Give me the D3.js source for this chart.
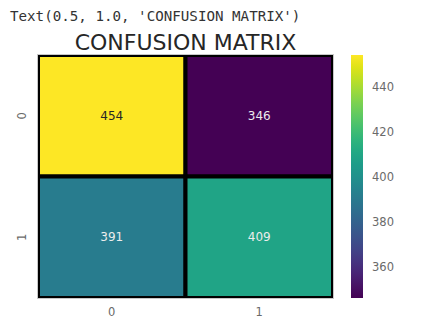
<!DOCTYPE html>
<html>
<head>
<meta charset="utf-8">
<script src="https://cdn.jsdelivr.net/npm/d3@7"></script>
<style>
  html, body { margin: 0; padding: 0; background: #fff; }
  svg { display: block; }
</style>
</head>
<body>
<svg id="chart" width="424" height="320"></svg>
<script>
// Confusion matrix counts (rows: actual, columns: predicted)
const rowLabels = ["0", "1"];
const colLabels = ["0", "1"];
const matrix = [
  [454, 346],
  [391, 409]
];
const colorbarTicks = [360, 380, 400, 420, 440];
const titleText = "CONFUSION MATRIX";
const echoText = "Text(0.5, 1.0, 'CONFUSION MATRIX')";

const svg = d3.select("#chart");

// plot area
const plot = { x0: 38, x1: 333, y0: 55, y1: 298 };
const cbar = { x0: 351, x1: 363 };

const flat = matrix.flat();
const vmin = d3.min(flat), vmax = d3.max(flat);
const color = d3.scaleSequential(d3.interpolateViridis).domain([vmin, vmax]);

const x = d3.scaleBand().domain(colLabels).range([plot.x0, plot.x1]);
const y = d3.scaleBand().domain(rowLabels).range([plot.y0, plot.y1]);

// notebook echo line
svg.append("text")
  .attr("x", 10).attr("y", 21)
  .attr("font-family", "DejaVu Sans Mono, Liberation Mono, monospace")
  .attr("font-size", 14.2)
  .attr("fill", "#333")
  .text(echoText);

// title
svg.append("text")
  .attr("x", (plot.x0 + plot.x1) / 2).attr("y", 49.5)
  .attr("text-anchor", "middle")
  .attr("font-family", "DejaVu Sans, sans-serif")
  .attr("font-size", 22)
  .attr("fill", "#262626")
  .text(titleText);

// clip cells to the plot area so outer borders are half-width
const defs = svg.append("defs");
defs.append("clipPath").attr("id", "plotClip")
  .append("rect")
  .attr("x", plot.x0).attr("y", plot.y0)
  .attr("width", plot.x1 - plot.x0).attr("height", plot.y1 - plot.y0);

// light frame around the axes
svg.append("rect")
  .attr("x", plot.x0 - 0.5).attr("y", plot.y0 - 0.5)
  .attr("width", plot.x1 - plot.x0 + 1).attr("height", plot.y1 - plot.y0 + 1)
  .attr("fill", "none").attr("stroke", "#c8c8c8").attr("stroke-width", 1);

const cells = [];
matrix.forEach((row, i) => row.forEach((v, j) => cells.push({ r: rowLabels[i], c: colLabels[j], v })));

const g = svg.append("g").attr("clip-path", "url(#plotClip)");
g.selectAll("rect.cell").data(cells).join("rect")
  .attr("class", "cell")
  .attr("x", d => x(d.c)).attr("y", d => y(d.r))
  .attr("width", x.bandwidth()).attr("height", y.bandwidth())
  .attr("fill", d => color(d.v))
  .attr("stroke", "#000").attr("stroke-width", 4);

// annotations
function luminance(c) {
  const rgb = d3.rgb(c);
  const f = v => { v /= 255; return v <= 0.03928 ? v / 12.92 : Math.pow((v + 0.055) / 1.055, 2.4); };
  return 0.2126 * f(rgb.r) + 0.7152 * f(rgb.g) + 0.0722 * f(rgb.b);
}
svg.selectAll("text.annot").data(cells).join("text")
  .attr("class", "annot")
  .attr("x", d => x(d.c) + x.bandwidth() / 2)
  .attr("y", d => y(d.r) + y.bandwidth() / 2)
  .attr("dy", "0.35em")
  .attr("text-anchor", "middle")
  .attr("font-family", "DejaVu Sans, sans-serif")
  .attr("font-size", 12)
  .attr("fill", d => luminance(color(d.v)) > 0.408 ? "#262626" : "#ececec")
  .text(d => d.v);

// axes: labels only, no tick lines
const xAxis = svg.append("g")
  .attr("transform", `translate(0,${plot.y1})`)
  .call(d3.axisBottom(x).tickSize(0).tickPadding(10));
const yAxis = svg.append("g")
  .attr("transform", `translate(${plot.x0},0)`)
  .call(d3.axisLeft(y).tickSize(0).tickPadding(0));
[xAxis, yAxis].forEach(a => {
  a.select(".domain").remove();
  a.selectAll("text")
    .attr("font-family", "DejaVu Sans, sans-serif")
    .attr("font-size", 11.5)
    .attr("fill", "#6a6a6a");
});
yAxis.selectAll(".tick text")
  .attr("text-anchor", "middle")
  .attr("dy", null)
  .attr("x", 0)
  .attr("transform", "translate(-16,0) rotate(-90)")
  .attr("dominant-baseline", "central");

// colorbar
const cScale = d3.scaleLinear().domain([vmin, vmax]).range([plot.y1, plot.y0]);
const grad = defs.append("linearGradient").attr("id", "cbGrad")
  .attr("x1", 0).attr("y1", 1).attr("x2", 0).attr("y2", 0);
d3.range(0, 1.0001, 0.05).forEach(t => {
  grad.append("stop").attr("offset", t).attr("stop-color", d3.interpolateViridis(t));
});
svg.append("rect")
  .attr("x", cbar.x0).attr("y", plot.y0)
  .attr("width", cbar.x1 - cbar.x0).attr("height", plot.y1 - plot.y0)
  .attr("fill", "url(#cbGrad)");

const cAxis = svg.append("g")
  .attr("transform", `translate(${cbar.x1},0)`)
  .call(d3.axisRight(cScale).tickValues(colorbarTicks).tickSize(0).tickPadding(9));
cAxis.select(".domain").remove();
cAxis.selectAll("text")
  .attr("font-family", "DejaVu Sans, sans-serif")
  .attr("font-size", 11.5)
  .attr("fill", "#6a6a6a");
</script>
</body>
</html>
